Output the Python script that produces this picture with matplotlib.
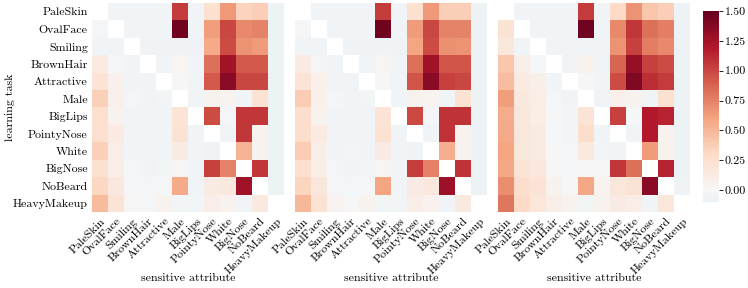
import numpy as np
import matplotlib
matplotlib.use("Agg")
import matplotlib.pyplot as plt
from matplotlib.colors import ListedColormap, Normalize

plt.rcParams['font.family'] = ['cmr10', 'DejaVu Serif']
plt.rcParams['axes.formatter.use_mathtext'] = True

attributes = ["PaleSkin", "OvalFace", "Smiling", "BrownHair", "Attractive", "Male",
              "BigLips", "PointyNose", "White", "BigNose", "NoBeard", "HeavyMakeup"]
tasks = attributes

N = np.nan
values_a = [
    [N, -0.05, -0.05, -0.05, -0.05, 1.05, -0.05, 0.24, 0.65, 0.35, 0.37, -0.08],
    [-0.03, N, -0.05, -0.05, -0.05, 1.45, -0.05, 0.62, 1.00, 0.72, 0.74, -0.08],
    [-0.05, -0.05, N, -0.06, -0.06, -0.06, -0.06, 0.57, 0.97, 0.67, 0.64, -0.08],
    [0.14, -0.03, -0.05, N, -0.05, 0.03, -0.05, 0.82, 1.25, 0.92, 0.92, -0.08],
    [0.20, 0.08, -0.05, -0.05, N, 0.00, -0.05, 0.92, 1.35, 1.00, 1.00, -0.08],
    [0.36, 0.08, -0.03, -0.05, -0.04, N, -0.05, 0.06, 0.04, -0.05, 0.22, -0.08],
    [0.26, 0.06, -0.05, -0.05, -0.05, 0.20, N, 0.97, -0.03, 1.07, 1.07, -0.08],
    [0.26, 0.14, -0.05, -0.05, -0.05, 0.22, -0.05, N, -0.05, 1.07, 0.06, -0.08],
    [0.36, 0.10, -0.05, -0.05, -0.05, 0.12, -0.05, -0.06, N, 0.52, 0.05, -0.08],
    [0.24, 0.10, -0.03, -0.05, -0.04, 0.02, -0.05, 1.02, 0.74, N, 1.07, -0.08],
    [0.32, 0.16, -0.03, -0.03, -0.03, 0.57, -0.05, 0.12, 0.16, 1.27, N, -0.08],
    [0.48, 0.20, 0.02, -0.02, 0.05, -0.04, -0.04, 0.10, 0.06, -0.05, 0.15, N],
]
values_b = [
    [N, -0.05, -0.05, -0.05, -0.05, 1.05, -0.05, 0.24, 0.65, 0.37, 0.37, -0.08],
    [-0.03, N, -0.05, -0.05, -0.05, 1.45, -0.05, 0.64, 1.00, 0.74, 0.74, -0.08],
    [-0.05, -0.05, N, -0.06, -0.06, -0.06, -0.06, 0.59, 0.97, 0.69, 0.67, -0.08],
    [0.14, -0.03, -0.05, N, -0.05, 0.03, -0.05, 0.82, 1.27, 0.94, 0.94, -0.08],
    [0.20, 0.08, -0.05, -0.05, N, 0.00, -0.05, 0.94, 1.35, 1.02, 1.00, -0.08],
    [0.38, 0.08, -0.03, -0.05, -0.04, N, -0.05, 0.06, 0.04, -0.05, 0.22, -0.08],
    [0.28, 0.06, -0.05, -0.05, -0.05, 0.20, N, 0.99, -0.03, 1.08, 1.08, -0.08],
    [0.28, 0.14, -0.05, -0.05, -0.05, 0.22, -0.05, N, -0.05, 1.08, 0.06, -0.08],
    [0.38, 0.10, -0.05, -0.04, -0.05, 0.12, -0.05, -0.06, N, 0.54, 0.05, -0.08],
    [0.26, 0.10, -0.03, -0.05, -0.04, 0.02, -0.05, 1.04, 0.76, N, 1.08, -0.08],
    [0.34, 0.17, -0.03, -0.03, -0.03, 0.59, -0.05, 0.12, 0.16, 1.28, N, -0.08],
    [0.50, 0.22, 0.04, 0.00, 0.06, -0.04, -0.04, 0.10, 0.07, -0.05, 0.15, N],
]
values_c = [
    [N, -0.05, -0.05, -0.05, -0.05, 1.05, -0.05, 0.30, 0.68, 0.42, 0.37, -0.08],
    [0.22, N, -0.05, -0.05, -0.05, 1.45, -0.05, 0.72, 1.07, 0.82, 0.77, -0.08],
    [0.17, -0.05, N, -0.05, -0.05, -0.05, -0.05, 0.67, 1.02, 0.77, 0.72, -0.08],
    [0.42, 0.10, -0.02, N, -0.05, 0.06, -0.05, 0.87, 1.30, 1.02, 0.97, -0.08],
    [0.46, 0.14, 0.09, -0.05, N, 0.00, -0.05, 0.97, 1.40, 1.10, 1.05, -0.08],
    [0.62, 0.16, 0.11, -0.02, -0.05, N, -0.05, 0.08, 0.06, -0.05, 0.24, -0.08],
    [0.56, 0.17, 0.11, 0.00, -0.04, 0.20, N, 1.02, -0.01, 1.20, 1.15, -0.08],
    [0.57, 0.17, 0.13, -0.01, -0.04, 0.28, -0.05, N, -0.05, 1.20, 0.06, -0.08],
    [0.60, 0.17, 0.13, 0.01, -0.03, 0.15, -0.04, -0.05, N, 0.64, 0.05, -0.08],
    [0.58, 0.20, 0.16, 0.00, -0.03, 0.00, 0.00, 1.07, 0.82, N, 1.15, -0.08],
    [0.70, 0.28, 0.20, 0.06, 0.01, 0.58, 0.04, 0.17, 0.22, 1.35, N, -0.06],
    [0.80, 0.30, 0.18, 0.10, 0.06, -0.04, 0.05, 0.13, 0.11, -0.05, 0.18, N],
]

cbar_ticks = [0.00, 0.25, 0.50, 0.75, 1.00, 1.25, 1.50]
vmin, vmax, center = -0.1, 1.5, 0.0

# seaborn-style recentred diverging colormap
base = plt.get_cmap("RdBu_r")
vrange = max(vmax - center, center - vmin)
cn = Normalize(center - vrange, center + vrange)
cmin, cmax = cn([vmin, vmax])
cmap = ListedColormap(base(np.linspace(cmin, cmax, 256)))
cmap.set_bad((1, 1, 1, 0))
norm = Normalize(vmin, vmax)

fig = plt.figure(figsize=(7.48, 2.88), dpi=100)
W, H = 748, 288
lefts = [92, 295, 498]
top_px, bot_px = 3, 212
fs = 8.6

for k, (left, vals) in enumerate(zip(lefts, [values_a, values_b, values_c])):
    ax = fig.add_axes([left / W, (H - bot_px) / H, 192 / W, (bot_px - top_px) / H])
    data = np.ma.masked_invalid(np.array(vals, dtype=float))
    ax.pcolormesh(np.arange(13), np.arange(13), data, cmap=cmap, norm=norm)
    ax.set_xlim(0, 12)
    ax.set_ylim(12, 0)
    ax.set_xticks(np.arange(12) + 0.5)
    ax.set_xticklabels(attributes, rotation=45, ha="right", rotation_mode="anchor", fontsize=fs)
    ax.tick_params(length=0, pad=3)
    for s in ax.spines.values():
        s.set_visible(False)
    ax.set_xlabel("sensitive attribute", fontsize=fs)
    ax.xaxis.set_label_coords(0.5, -0.295)
    if k == 0:
        ax.set_yticks(np.arange(12) + 0.5)
        ax.set_yticklabels(tasks, fontsize=fs)
        ax.set_ylabel("learning task", fontsize=fs)
        ax.yaxis.set_label_coords(-0.40, 0.5)
    else:
        ax.set_yticks([])

cax = fig.add_axes([703 / W, (H - 202) / H, 16 / W, 191 / H])
sm = plt.cm.ScalarMappable(norm=norm, cmap=cmap)
cb = fig.colorbar(sm, cax=cax)
cb.outline.set_visible(False)
cb.set_ticks(cbar_ticks)
cb.set_ticklabels([f"{t:.2f}" for t in cbar_ticks])
cax.tick_params(labelsize=fs, length=3, width=0.6, pad=1)

fig.savefig("out.png", dpi=100)
